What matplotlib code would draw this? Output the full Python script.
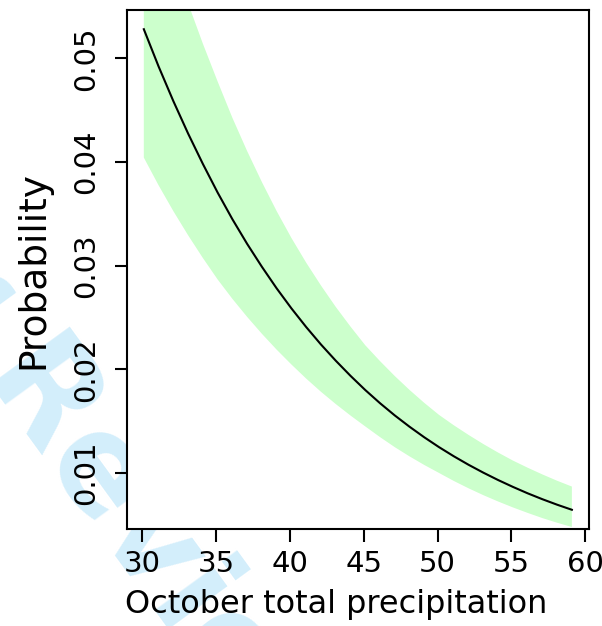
import matplotlib
matplotlib.use("Agg")
import matplotlib.pyplot as plt
import numpy as np

# values (fitted probability and its band)
precip = [30.1, 31.1, 32.1, 33.1, 34.1, 35.1, 36.1, 37.1, 38.1, 39.1,
          40.1, 41.1, 42.1, 43.1, 44.1, 45.1, 46.1, 47.1, 48.1, 49.1,
          50.1, 51.1, 52.1, 53.1, 54.1, 55.1, 56.1, 57.1, 58.1, 59.1]
prob = [0.05280, 0.04921, 0.04587, 0.04274, 0.03981, 0.03705, 0.03448, 0.03210,
        0.02989, 0.02781, 0.02588, 0.02408, 0.02240, 0.02084, 0.01938, 0.01801,
        0.01674, 0.01556, 0.01447, 0.01345, 0.01250, 0.01162, 0.01080, 0.01004,
        0.00933, 0.00867, 0.00805, 0.00748, 0.00695, 0.00646]
upper = [0.0687, 0.06394, 0.05945, 0.05530, 0.05141, 0.04776, 0.04426, 0.04105,
         0.03806, 0.03526, 0.03267, 0.03029, 0.02809, 0.02603, 0.02413, 0.02233,
         0.02080, 0.01936, 0.01802, 0.01677, 0.01561, 0.01461, 0.01368, 0.01280,
         0.01198, 0.01121, 0.01052, 0.00987, 0.00926, 0.00870]
lower = [0.04042, 0.03775, 0.03526, 0.03293, 0.03074, 0.02867, 0.02680, 0.02506,
         0.02343, 0.02190, 0.02047, 0.01911, 0.01784, 0.01666, 0.01555, 0.01450,
         0.01347, 0.01250, 0.01161, 0.01078, 0.01001, 0.00924, 0.00853, 0.00787,
         0.00726, 0.00669, 0.00616, 0.00566, 0.00521, 0.00480]
x_ticks = [30, 35, 40, 45, 50, 55, 60]
y_ticks = [0.01, 0.02, 0.03, 0.04, 0.05]

W, H = 602, 626
fig = plt.figure(figsize=(W / 100, H / 100), dpi=100)
ax = fig.add_axes([126.7 / W, 1 - 529 / H, (589 - 126.7) / W, (529 - 10) / H])
ax.set_facecolor("white")

# watermark behind the plot region
wm = dict(fontsize=96, color="#d3eefb", fontweight="bold", rotation=-54,
          rotation_mode="anchor", va="baseline", zorder=-5)
fig.text(-18 / W, 1 - 374 / H, "Peer ", ha="right", **wm)
fig.text(-18 / W, 1 - 374 / H, "Review Only", ha="left", **wm)

ax.fill_between(precip, lower, upper, color="#ccffcc", linewidth=0)
ax.plot(precip, prob, color="black", linewidth=1.5)

# R-style 4% padding from the data ranges
xr = max(precip) - min(precip)
ax.set_xlim(min(precip) - 0.04 * xr, max(precip) + 0.04 * xr)
yr = max(prob) - min(prob)
ax.set_ylim(min(prob) - 0.04 * yr, max(prob) + 0.04 * yr)

ax.set_xticks(x_ticks)
ax.set_xticklabels([str(t) for t in x_ticks])
ax.set_yticks(y_ticks)
ax.set_yticklabels([f"{t:.2f}" for t in y_ticks], rotation=90, va="center")
ax.tick_params(axis="both", length=9, width=1.5, labelsize=21)
ax.tick_params(axis="x", pad=6)
ax.tick_params(axis="y", pad=10)
for s in ax.spines.values():
    s.set_linewidth(1.5)

ax.set_ylabel("Probability", fontsize=27, labelpad=15)
fig.text(336.5 / W, 1 - 605 / H, "October total precipitation", fontsize=23,
         ha="center", va="center")

fig.savefig("out.png", dpi=100)
